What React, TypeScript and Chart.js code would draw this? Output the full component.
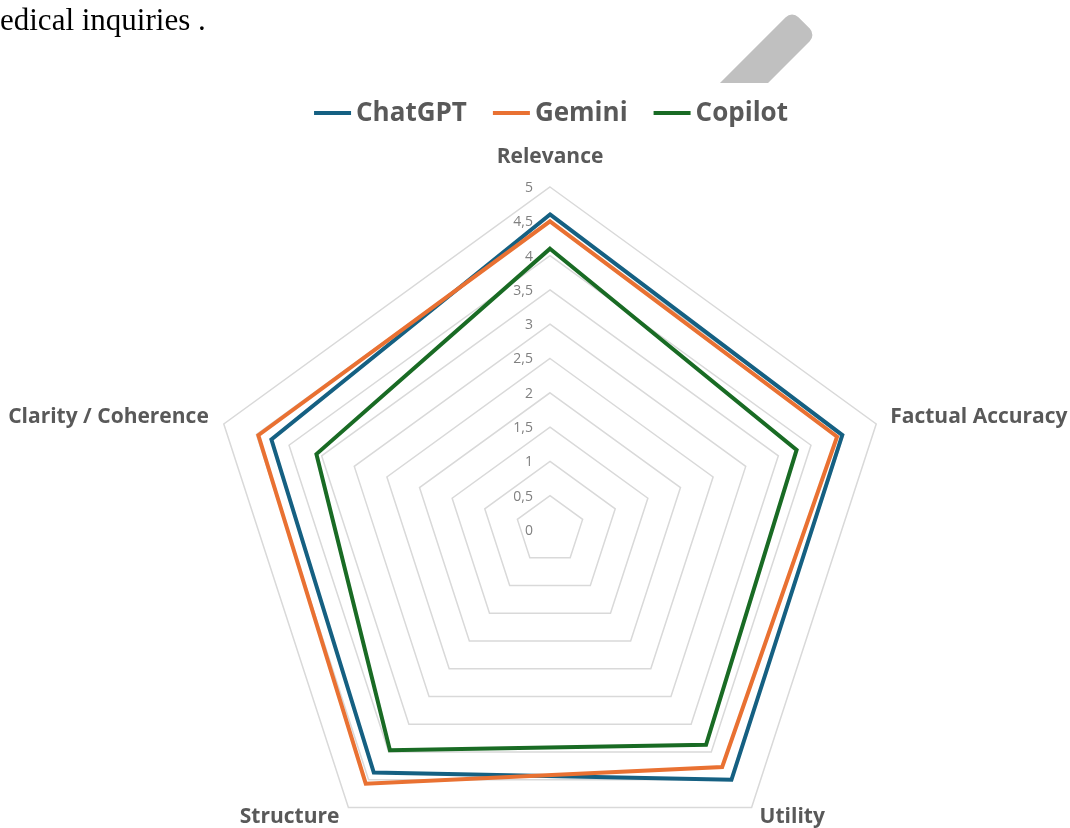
import React, { useEffect, useRef } from "react";
import { Chart, registerables } from "chart.js";

Chart.register(...registerables);

// ---- data ----
const CATEGORIES = ["Relevance", "Factual Accuracy", "Utility", "Structure", "Clarity / Coherence"];
const SERIES_NAMES = ["ChatGPT", "Gemini", "Copilot"];
const CHATGPT = [4.6, 4.48, 4.5, 4.37, 4.27];
const GEMINI = [4.5, 4.4, 4.27, 4.57, 4.47];
const COPILOT = [4.1, 3.78, 3.87, 3.97, 3.58];
const TICK_VALUES = [0, 0.5, 1, 1.5, 2, 2.5, 3, 3.5, 4, 4.5, 5];
const TICK_LABELS = ["0", "0,5", "1", "1,5", "2", "2,5", "3", "3,5", "4", "4,5", "5"];
const CAPTION = "edical inquiries .";

// ---- styles ----
const COLORS = ["#156082", "#E97132", "#196B24"];
const TEXT_COLOR = "#595959";
const TICK_COLOR = "#808080";
const GRID_COLOR = "#d9d9d9";
const LABEL_FONT = 'bold 21px "Open Sans"';
const LEGEND_FONT = 'bold 26px "Open Sans"';
const TICK_FONT = '14px "Open Sans"';

const W = 1070;
const H = 828;

const overlayPlugin = {
  id: "overlay",
  beforeDraw(chart: any) {
    const ctx = chart.ctx;
    // decorative grey bar at the top (part of the surrounding page)
    ctx.save();
    ctx.beginPath();
    ctx.rect(0, 0, W, 83);
    ctx.clip();
    ctx.translate(744, 83);
    ctx.rotate(-Math.PI / 4);
    ctx.beginPath();
    ctx.roundRect(-60, -17, 145, 34, [0, 9, 9, 0]);
    ctx.fillStyle = "#c0c0c0";
    ctx.fill();
    ctx.restore();
  },
  beforeDatasetsDraw(chart: any) {
    const ctx = chart.ctx;
    const s = chart.scales.r;
    ctx.save();
    ctx.font = TICK_FONT;
    ctx.fillStyle = TICK_COLOR;
    ctx.textAlign = "right";
    ctx.textBaseline = "middle";
    TICK_VALUES.forEach((v, i) => {
      ctx.fillText(TICK_LABELS[i], s.xCenter - 17, s.yCenter - s.getDistanceFromCenterForValue(v) + 1);
    });
    ctx.restore();
  },
  afterDraw(chart: any) {
    const ctx = chart.ctx;
    const s = chart.scales.r;
    ctx.save();
    // point labels
    ctx.font = LABEL_FONT;
    ctx.fillStyle = TEXT_COLOR;
    CATEGORIES.forEach((lab, i) => {
      const p = s.getPointPosition(i, s.drawingArea);
      const dx = p.x - s.xCenter;
      const dy = p.y - s.yCenter;
      if (Math.abs(dx) < 1) {
        ctx.textAlign = "center";
        ctx.textBaseline = "alphabetic";
        ctx.fillText(lab, p.x, p.y - 24);
      } else if (dy < 0) {
        ctx.textAlign = dx > 0 ? "left" : "right";
        ctx.textBaseline = "middle";
        ctx.fillText(lab, p.x + (dx > 0 ? 14 : -15), p.y - 7);
      } else {
        ctx.textAlign = dx > 0 ? "left" : "right";
        ctx.textBaseline = "alphabetic";
        ctx.fillText(lab, p.x + (dx > 0 ? 8 : -9), p.y + 16);
      }
    });
    // legend
    ctx.font = LEGEND_FONT;
    const lineLen = 37;
    const gapText = 5;
    const gapItem = 26;
    const widths = chart.data.datasets.map((d: any) => lineLen + gapText + ctx.measureText(d.label).width);
    const total = widths.reduce((a: number, b: number) => a + b, 0) + gapItem * (widths.length - 1);
    let x = s.xCenter + 1 - total / 2;
    const y = 113;
    chart.data.datasets.forEach((d: any, i: number) => {
      ctx.strokeStyle = d.borderColor;
      ctx.lineWidth = 4;
      ctx.beginPath();
      ctx.moveTo(x, y);
      ctx.lineTo(x + lineLen, y);
      ctx.stroke();
      ctx.fillStyle = TEXT_COLOR;
      ctx.textAlign = "left";
      ctx.textBaseline = "middle";
      ctx.fillText(d.label, x + lineLen + gapText, y + 1);
      x += widths[i] + gapItem;
    });
    ctx.restore();
  },
};

export default function App() {
  const ref = useRef<HTMLCanvasElement | null>(null);
  useEffect(() => {
    if (!ref.current) return;
    const series = [CHATGPT, GEMINI, COPILOT];
    const chart = new Chart(ref.current, {
      type: "radar",
      data: {
        labels: CATEGORIES,
        datasets: series.map((vals, i) => ({
          label: SERIES_NAMES[i],
          data: vals,
          borderColor: COLORS[i],
          backgroundColor: "transparent",
          borderWidth: 4,
          pointRadius: 0,
          fill: false,
          borderJoinStyle: "miter" as const,
          order: series.length - i,
        })),
      },
      options: {
        animation: false,
        responsive: false,
        devicePixelRatio: 1,
        plugins: { legend: { display: false }, tooltip: { enabled: false }, title: { display: false } },
        scales: {
          r: {
            min: 0,
            max: 5,
            ticks: { display: false, stepSize: 0.5 },
            grid: { color: GRID_COLOR, lineWidth: 1.5 },
            angleLines: { display: false },
            pointLabels: { display: false },
            afterFit: (scale: any) => {
              scale.xCenter = 550;
              scale.yCenter = 530;
              scale.drawingArea = 343;
            },
          },
        },
      } as any,
      plugins: [overlayPlugin],
    });
    return () => chart.destroy();
  }, []);
  return (
    <div style={{ position: "fixed", left: 0, top: 0, width: W, height: H, background: "#fff", overflow: "hidden" }}>
      <canvas ref={ref} width={W} height={H} style={{ position: "absolute", left: 0, top: 0, display: "block" }} />
      <div
        style={{
          position: "absolute",
          left: 0,
          top: 2,
          fontFamily: '"Liberation Serif", "Times New Roman", serif',
          fontSize: 31,
          color: "#000",
          whiteSpace: "nowrap",
        }}
      >
        {CAPTION}
      </div>
    </div>
  );
}
